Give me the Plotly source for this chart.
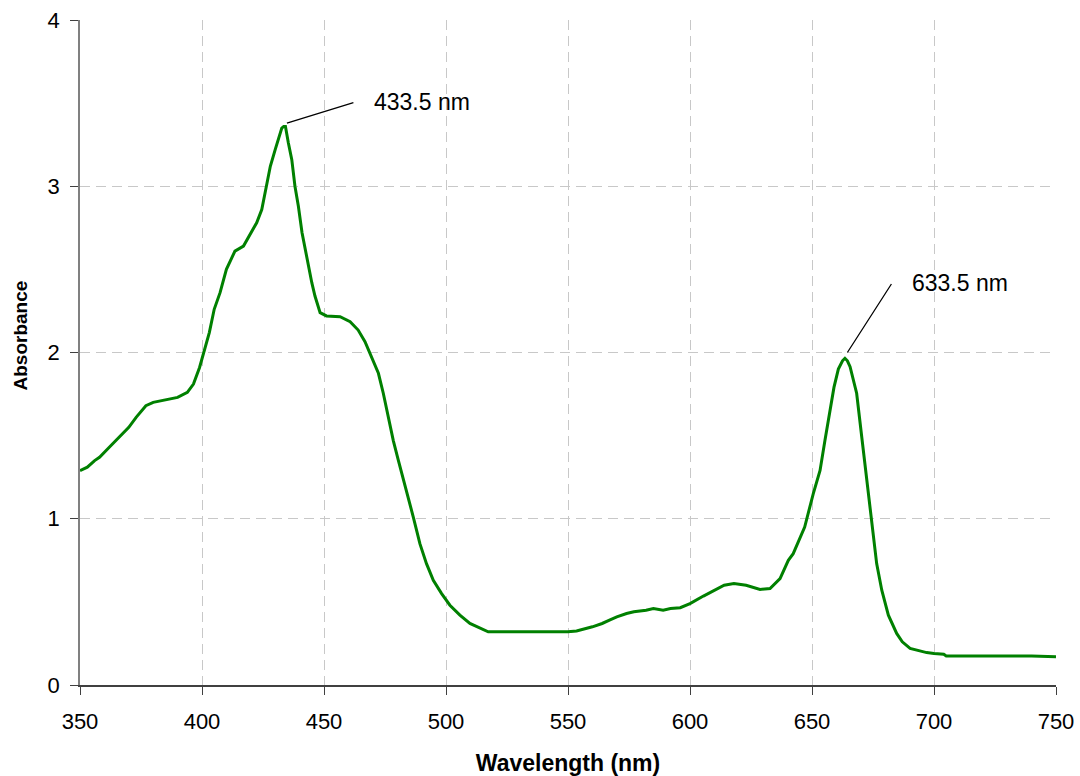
import plotly.graph_objects as go

wavelength = [350, 353, 356, 358, 362, 366, 370, 373, 377, 380, 383, 387, 390, 394, 396.5, 399, 401, 403, 405,
              407.4, 410, 413.5, 417, 419.7, 422.4, 424.5, 426.5, 428, 430, 431.7, 432.7, 433.5, 434.2, 435.4,
              436.8, 438.1, 439.5, 441, 443, 445, 446.3, 448.4, 451, 456.6, 460.7, 464, 466.8, 469.5, 472.3,
              474.3, 476.4, 478.4, 480.5, 482.5, 484, 486.6, 489.3, 492, 494.8, 498.2, 501.6, 505.7, 509.8,
              514, 517.3, 550, 553.5, 560, 564, 567, 570, 574, 577, 582, 585, 589, 592, 596, 600, 605.5, 611,
              614, 618, 623, 628.7, 632.8, 636.9, 640.3, 642.3, 644, 647, 650.5, 653.3, 655.3, 657.4, 659,
              660.8, 662.5, 663.5, 664.5, 665.6, 668.3, 670.4, 672.4, 674.5, 676.5, 678.6, 681.3, 684.7, 687,
              690.2, 694, 697, 700, 704, 705, 720, 740, 750]
absorbance = [1.29, 1.31, 1.35, 1.37, 1.43, 1.49, 1.55, 1.61, 1.68, 1.70, 1.71, 1.72, 1.73, 1.76, 1.81, 1.91, 2.01,
              2.12, 2.26, 2.36, 2.50, 2.61, 2.64, 2.71, 2.78, 2.86, 3.00, 3.12, 3.22, 3.30, 3.35, 3.36, 3.36,
              3.26, 3.16, 3.00, 2.88, 2.72, 2.56, 2.42, 2.34, 2.24, 2.22, 2.215, 2.185, 2.135, 2.065, 1.975,
              1.875, 1.755, 1.61, 1.47, 1.35, 1.24, 1.17, 1.01, 0.85, 0.73, 0.63, 0.55, 0.48, 0.42, 0.37, 0.34,
              0.32, 0.32, 0.325, 0.35, 0.37, 0.39, 0.41, 0.43, 0.44, 0.45, 0.46, 0.45, 0.46, 0.465, 0.49, 0.535,
              0.58, 0.60, 0.61, 0.60, 0.575, 0.58, 0.64, 0.75, 0.79, 0.85, 0.95, 1.15, 1.29, 1.47, 1.65, 1.79,
              1.90, 1.95, 1.965, 1.95, 1.915, 1.755, 1.49, 1.23, 0.95, 0.73, 0.57, 0.42, 0.31, 0.26, 0.22, 0.205,
              0.195, 0.19, 0.185, 0.175, 0.175, 0.175, 0.17]

peak_labels = ["433.5 nm", "633.5 nm"]
peak_x = [434.8, 664.5]
peak_y = [3.38, 2.0]

FONT = "Liberation Sans, Arial, sans-serif"

fig = go.Figure()
fig.add_trace(go.Scatter(x=wavelength, y=absorbance, mode="lines",
                         line=dict(color="#008000", width=3), showlegend=False))

arrow_off = [(68, -21), (45, -70)]
text_off = [(85, 21), (63, 70)]
for lbl, px, py, (ax, ay), (tx, ty) in zip(peak_labels, peak_x, peak_y, arrow_off, text_off):
    fig.add_annotation(x=px, y=py, text="", showarrow=True, arrowhead=0, arrowwidth=1.3,
                       arrowcolor="black", ax=ax, ay=ay, standoff=0)
    fig.add_annotation(x=px, y=py, text=lbl, showarrow=False, xanchor="left", yanchor="middle",
                       xshift=tx, yshift=ty, font=dict(family=FONT, size=23, color="black"))

# y-axis title as rotated annotation (positioned like the reference)
fig.add_annotation(xref="paper", yref="paper", x=0, y=0.5, xshift=-60, yshift=17,
                   xanchor="center", yanchor="middle",
                   text="<b>Absorbance</b>", textangle=-90, showarrow=False,
                   font=dict(family=FONT, size=19, color="black"))

fig.update_layout(
    width=1080, height=776,
    margin=dict(l=80, r=24, t=20, b=91),
    plot_bgcolor="white", paper_bgcolor="white",
    font=dict(family=FONT, size=22, color="black"),
)
fig.update_xaxes(range=[350, 750], tickvals=[350, 400, 450, 500, 550, 600, 650, 700, 750],
                 showgrid=True, gridcolor="#c8c8c8", griddash="10px,6px", gridwidth=1,
                 showline=True, linecolor="#404040", linewidth=1.5,
                 ticks="outside", ticklen=8, tickcolor="#404040", ticklabelstandoff=8,
                 tickfont=dict(size=22), zeroline=False, automargin=False,
                 title=dict(text="<b>Wavelength (nm)</b>", font=dict(size=23), standoff=24))
fig.update_yaxes(range=[0, 4], tickvals=[0, 1, 2, 3, 4],
                 showgrid=True, gridcolor="#c8c8c8", griddash="10px,6px", gridwidth=1,
                 showline=True, linecolor="#808080", linewidth=1.5,
                 ticks="outside", ticklen=8, tickcolor="#404040", ticklabelstandoff=6,
                 tickfont=dict(size=22), zeroline=False, automargin=False)

fig.write_html("out.html")
